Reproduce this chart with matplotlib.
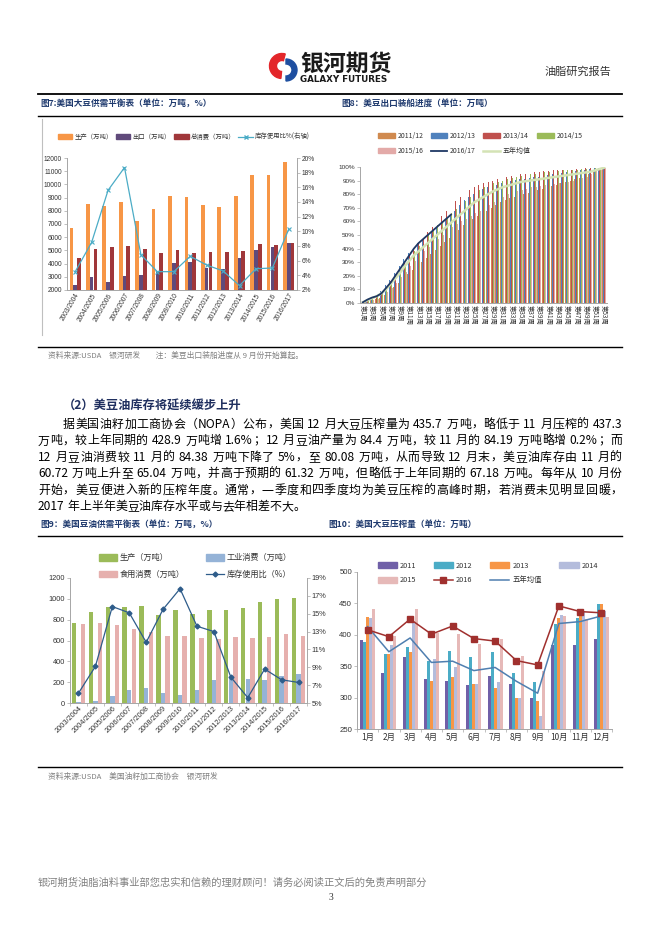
import matplotlib
matplotlib.use('Agg')
import matplotlib.pyplot as plt
import numpy as np
from matplotlib.patches import Patch, Wedge
from matplotlib.lines import Line2D
from matplotlib.font_manager import FontProperties

plt.rcParams['font.family'] = ['Noto Sans CJK SC', 'DejaVu Sans']
plt.rcParams['axes.unicode_minus'] = False

W, H = 662, 936
CJK = 'Noto Sans CJK SC'
NUM = ['Liberation Sans Narrow', 'Liberation Sans', 'DejaVu Sans']
GRAY_AX = '#A6A6A6'

# --- 图7 美国大豆供需平衡表 ---
years = ['2003/2004', '2004/2005', '2005/2006', '2006/2007', '2007/2008', '2008/2009', '2009/2010',
         '2010/2011', '2011/2012', '2012/2013', '2013/2014', '2014/2015', '2015/2016', '2016/2017']
soy_prod = [6680, 8520, 8330, 8700, 7250, 8100, 9150, 9070, 8440, 8290, 9140, 10680, 10680, 11700]
soy_export = [2410, 3000, 2580, 3030, 3130, 3450, 4080, 4090, 3700, 3580, 4460, 5000, 5290, 5550]
soy_cons = [4450, 5100, 5280, 5330, 5130, 4800, 5050, 4830, 4880, 4880, 4980, 5480, 5430, 5580]
soy_ratio = [4.5, 8.5, 15.6, 18.7, 6.8, 4.5, 4.5, 6.6, 5.4, 4.6, 2.6, 4.9, 5.0, 10.3]

# --- 图8 美豆出口装船进度 (%) ---
week_labels = ['第%d周' % (i + 1) for i in range(53)]
ship_1112 = [0, 1, 2, 3, 4, 6, 9, 12, 15, 18, 21, 24, 27, 30, 33, 36, 39, 42, 45, 48,
             51, 54, 57, 60, 62, 64, 66, 68, 70, 72, 74, 76, 77, 78, 79, 80, 81, 82, 83, 84,
             85, 86, 87, 88, 89, 90, 91, 92, 93, 95, 97, 98, 99]
ship_1213 = [1, 2, 4, 6, 9, 13, 17, 22, 27, 32, 37, 41, 44, 47, 50, 53, 56, 59, 62, 65,
             68, 72, 76, 78, 80, 82, 84, 85, 86, 87, 88, 89, 90, 90.5, 91, 91.5, 92, 92.5, 93, 93.5,
             94, 94.5, 95, 95.5, 96, 96.5, 97, 97.5, 98, 98.5, 99, 99.5, 100]
ship_1314 = [1, 2, 3, 5, 8, 12, 16, 21, 26, 31, 35, 40, 44, 48, 52, 56, 60, 64, 68, 72,
             75, 78, 81, 83, 85, 87, 88, 89, 90, 91, 92, 93, 93.5, 94, 94.5, 95, 95.5, 96, 96.5, 97,
             97, 97.5, 97.5, 98, 98, 98, 98.5, 98.5, 99, 99, 99.5, 99.5, 100]
ship_1415 = [1, 2, 4, 6, 8, 11, 15, 19, 24, 29, 34, 38, 42, 46, 50, 54, 57, 60, 63, 66,
             69, 72, 75, 78, 81, 83, 85, 87, 88, 89, 90, 91, 92, 93, 93.5, 94, 94.5, 95, 95.5, 96,
             96.5, 97, 97, 97.5, 97.5, 98, 98, 98.5, 98.5, 99, 99, 99.5, 100]
ship_1516 = [0, 1, 2, 3, 5, 8, 11, 15, 19, 23, 27, 31, 35, 38, 41, 44, 47, 50, 53, 56,
             58, 60, 62, 64, 66, 68, 70, 72, 74, 76, 78, 80, 81, 82, 83, 84, 85, 85.5, 86, 86.5,
             87, 87.5, 88, 88.5, 89, 90, 91, 92, 93, 95, 97, 98, 99]
ship_1617 = [0.5, 2.5, 4, 5, 7, 11, 15, 20, 25, 30, 35, 40, 44, 47, 50, 53, 56, 59, 62, 65]
ship_avg = [0.5, 2, 3.5, 5, 7, 10, 14, 18, 22, 27, 31, 35, 38, 41, 44, 47, 50, 53, 56, 59,
            62, 65, 68, 71, 74, 76, 78, 80, 82, 83.5, 85, 86, 87, 88, 89, 89.5, 90, 90.5, 91, 91.5,
            92, 92.5, 93, 93.5, 94, 94.5, 95, 95.5, 96, 96.5, 97.5, 98.5, 99.5]

# --- 图9 美国豆油供需平衡表 ---
oil_prod = [770, 875, 920, 925, 935, 845, 890, 850, 895, 895, 915, 970, 995, 1010]
oil_ind = [10, 20, 70, 125, 145, 95, 75, 125, 220, 230, 230, 225, 260, 280]
oil_food = [755, 770, 745, 715, 680, 640, 640, 625, 615, 635, 625, 630, 660, 645]
oil_ratio = [6.1, 9.1, 15.8, 15.1, 11.8, 15.5, 17.8, 13.6, 13.0, 7.9, 5.6, 8.8, 7.6, 7.3]

# --- 图10 美国大豆压榨量 ---
months = ['1月', '2月', '3月', '4月', '5月', '6月', '7月', '8月', '9月', '10月', '11月', '12月']
crush_2011 = [392, 339, 364, 330, 327, 320, 334, 322, 300, 384, 383, 394]
crush_2012 = [388, 370, 381, 358, 375, 364, 373, 339, 325, 417, 427, 449]
crush_2013 = [429, 370, 372, 326, 333, 322, 315, 300, 295, 426, 433, 449]
crush_2014 = [427, 384, 419, 361, 349, 322, 325, 300, 271, 431, 436, 438]
crush_2015 = [441, 398, 441, 403, 402, 386, 394, 367, 343, 430, 425, 428]
crush_2016 = [408, 397, 425, 401, 414, 394, 390, 359, 352, 446, 437, 435]
crush_avg = [413, 373, 395, 356, 358, 343, 348, 326, 307, 418, 421, 430]

body_lines = [
    "据美国油籽加工商协会（NOPA）公布，美国 12 月大豆压榨量为 435.7 万吨，略低于 11 月压榨的 437.3",
    "万吨，较上年同期的 428.9 万吨增 1.6%；12 月豆油产量为 84.4 万吨，较 11 月的 84.19 万吨略增 0.2%；而",
    "12 月豆油消费较 11 月的 84.38 万吨下降了 5%，至 80.08 万吨，从而导致 12 月末，美豆油库存由 11 月的",
    "60.72 万吨上升至 65.04 万吨，并高于预期的 61.32 万吨，但略低于上年同期的 67.18 万吨。每年从 10 月份",
    "开始，美豆便进入新的压榨年度。通常，一季度和四季度均为美豆压榨的高峰时期，若消费未见明显回暖，",
    "2017 年上半年美豆油库存水平或与去年相差不大。",
]


def box(x0, y0, x1, y1):
    return [x0 / W, 1 - y1 / H, (x1 - x0) / W, (y1 - y0) / H]


def fig_pt(x, y):
    return (x / W, 1 - y / H)


def style_ax(ax, size=4.8, fam=NUM):
    for s in ['top', 'right']:
        ax.spines[s].set_visible(False)
    for s in ['left', 'bottom']:
        ax.spines[s].set_color(GRAY_AX)
        ax.spines[s].set_linewidth(0.7)
    ax.tick_params(axis='both', length=2, width=0.5, color=GRAY_AX, labelsize=size,
                   labelcolor='#333333', pad=1.5)
    for lab in ax.get_yticklabels():
        lab.set_family(fam)
    ax.set_facecolor('none')


fig = plt.figure(figsize=(W / 100, H / 100), dpi=100)
page = fig.add_axes([0, 0, 1, 1])
page.set_xlim(0, W)
page.set_ylim(H, 0)
page.axis('off')

# ---------- 页眉 ----------
page.add_patch(Wedge((282, 66), 12.5, 95, 285, width=7, color='#E3262A'))
page.add_patch(Wedge((286, 70), 11, 270, 450, width=5, color='#1E4FA0'))
page.text(300, 64, '银河期货', fontsize=16.5, fontweight='bold', color='#1a1a1a', va='center', family=CJK)
page.text(300, 79, 'GALAXY FUTURES', fontsize=6.3, fontweight='bold', color='#1a1a1a', va='center',
          family='DejaVu Sans')
page.text(545, 72, '油脂研究报告', fontsize=8, color='#333333', va='center', family=CJK)
page.plot([38, 622], [94, 94], color='black', lw=1.3)

title_kw = dict(fontsize=6.2, fontweight='bold', color='#1F3A6E', va='center', family=CJK)
page.text(40, 103, '图7:美国大豆供需平衡表（单位：万吨，%）', **title_kw)
page.text(341, 103, '图8：美豆出口装船进度（单位：万吨）', **title_kw)
page.plot([38, 622], [116, 116], color='black', lw=1.0)
page.plot([42, 42], [119, 335], color='#BFBFBF', lw=0.8)
page.plot([38, 622], [347, 347], color='black', lw=1.0)
note_kw = dict(fontsize=5.6, color='#808080', va='center', family=CJK)
page.text(48, 356, '资料来源:USDA　银河研发　　注：美豆出口装船进度从 9 月份开始算起。', **note_kw)

# ---------- 图7 ----------
ax7 = fig.add_axes(box(67, 158, 297, 290))
x7 = np.arange(len(years))
ax7.bar(x7 - 0.23, soy_prod, 0.22, color='#F79646')
ax7.bar(x7, soy_export, 0.22, color='#604A7B')
ax7.bar(x7 + 0.23, soy_cons, 0.22, color='#A0373A')
ax7.set_ylim(2000, 12000)
ax7.set_yticks(np.arange(2000, 12001, 1000))
ax7.set_xlim(-0.5, len(years) - 0.5)
ax7.set_xticks(x7)
ax7.set_xticklabels(years, rotation=60, ha='right', rotation_mode='anchor')
style_ax(ax7, 4.8)
for lab in ax7.get_xticklabels():
    lab.set_family(NUM)
ax7.tick_params(axis='x', length=0)
ax7r = ax7.twinx()
ax7r.plot(x7, soy_ratio, color='#4BACC6', lw=0.9, marker='x', ms=3, mew=0.8)
ax7r.set_ylim(2, 20)
ax7r.set_yticks(np.arange(2, 21, 2))
ax7r.set_yticklabels(['%d%%' % v for v in range(2, 21, 2)])
for s in ['top', 'left', 'bottom']:
    ax7r.spines[s].set_visible(False)
ax7r.spines['right'].set_color(GRAY_AX)
ax7r.spines['right'].set_linewidth(0.7)
ax7r.tick_params(axis='y', length=2, width=0.5, color=GRAY_AX, labelsize=4.8, labelcolor='#333333', pad=1.5)
for lab in ax7r.get_yticklabels():
    lab.set_family(NUM)
h7 = [Patch(color='#F79646'), Patch(color='#604A7B'), Patch(color='#A0373A'),
      Line2D([], [], color='#4BACC6', lw=0.9, marker='x', ms=3)]
fig.legend(h7, ['生产（万吨）', '出口（万吨）', '总消费（万吨）', '库存使用比%(右轴)'],
           loc='center left', bbox_to_anchor=fig_pt(52, 137), ncol=4, frameon=False,
           fontsize=4.6, handlelength=2.3, handleheight=0.8, handletextpad=0.3, columnspacing=0.5,
           labelcolor='#333333')

# ---------- 图8 ----------
ax8 = fig.add_axes(box(360, 167, 607, 303))
x8 = np.arange(len(week_labels))
ship_series = [ship_1112, ship_1213, ship_1314, ship_1415, ship_1516]
ship_colors = ['#D08A4F', '#4F81BD', '#C0504D', '#9BBB59', '#E3AAA8']
for k, (vals, c) in enumerate(zip(ship_series, ship_colors)):
    ax8.bar(x8 + (k - 2) * 0.17, vals, 0.17, color=c, lw=0)
ax8.plot(np.arange(len(ship_avg)), ship_avg, color='#D4E3B5', lw=1.8)
ax8.plot(np.arange(len(ship_1617)), ship_1617, color='#1F3864', lw=1.3)
ax8.set_ylim(0, 100)
ax8.set_yticks(np.arange(0, 101, 10))
ax8.set_yticklabels(['%d%%' % v for v in range(0, 101, 10)])
ax8.set_xlim(-0.6, len(week_labels) - 0.4)
ax8.set_xticks(x8[::2])
ax8.set_xticklabels(week_labels[::2], rotation=270, ha='center', va='top')
style_ax(ax8, 4.6)
ax8.tick_params(axis='x', labelsize=4.6, length=0)
h8 = [Patch(color=c) for c in ship_colors] + [Line2D([], [], color='#1F3864', lw=1.3),
                                               Line2D([], [], color='#D4E3B5', lw=1.8)]
l8 = ['2011/12', '2012/13', '2013/14', '2014/15', '2015/16', '2016/17', '五年均值']
order8 = [0, 4, 1, 5, 2, 6, 3]
fig.legend([h8[i] for i in order8], [l8[i] for i in order8], loc='upper left',
           bbox_to_anchor=fig_pt(372, 126), ncol=4, frameon=False, fontsize=5,
           handlelength=2.4, handleheight=0.8, handletextpad=0.4, columnspacing=1.0,
           labelspacing=1.0, labelcolor='#333333')

# ---------- 正文 ----------
page.text(63, 410, '（2）美豆油库存将延续缓步上升', fontsize=8.8, fontweight='bold', color='#1F2F5F',
          va='baseline', family=CJK)

renderer = fig.canvas.get_renderer()
body_fp = FontProperties(family=CJK, size=8.6)
space_w = 0.25 * 8.6 * 100 / 72


def tokens_of(s):
    toks, cur = [], ''
    for ch in s:
        if ord(ch) < 128 and ch != ' ':
            cur += ch
            continue
        if cur:
            toks.append(cur)
            cur = ''
        toks.append(ch)
    if cur:
        toks.append(cur)
    return toks


def width_of(t):
    if t == ' ':
        return space_w
    return renderer.get_text_width_height_descent(t, body_fp, ismath=False)[0]


def body_line(s, x0, x1, y, justify=True):
    toks = tokens_of(s)
    ws = [width_of(t) for t in toks]
    extra = (x1 - x0 - sum(ws)) / (len(toks) - 1) if justify else 0
    x = x0
    for t, w in zip(toks, ws):
        if t != ' ':
            page.text(x, y, t, fontproperties=body_fp, color='black', va='baseline')
        x += w + extra


for i, s in enumerate(body_lines):
    x0 = 63 if i == 0 else 38
    body_line(s, x0, 622, 428 + 16.4 * i, justify=(i < len(body_lines) - 1))

page.text(40, 524, '图9：美国豆油供需平衡表（单位：万吨，%）', **title_kw)
page.text(328, 524, '图10：美国大豆压榨量（单位：万吨）', **title_kw)
page.plot([38, 622], [536, 536], color='black', lw=1.0)

# ---------- 图9 ----------
ax9 = fig.add_axes(box(70, 578, 307, 703))
x9 = np.arange(len(years))
ax9.bar(x9 - 0.27, oil_prod, 0.26, color='#9BBB59')
ax9.bar(x9, oil_ind, 0.26, color='#95B3D7')
ax9.bar(x9 + 0.27, oil_food, 0.26, color='#E6B0AE')
ax9.set_ylim(0, 1200)
ax9.set_yticks(np.arange(0, 1201, 200))
ax9.set_xlim(-0.5, len(years) - 0.5)
ax9.set_xticks(x9)
ax9.set_xticklabels(years, rotation=45, ha='right', rotation_mode='anchor')
ax9.set_xticks(np.arange(-0.5, len(years), 1), minor=True)
style_ax(ax9, 5.3)
ax9.tick_params(axis='x', which='major', length=0)
ax9.tick_params(axis='x', which='minor', length=2.5, width=0.5, color=GRAY_AX)
for lab in ax9.get_xticklabels():
    lab.set_family(NUM)
ax9r = ax9.twinx()
ax9r.plot(x9, oil_ratio, color='#2E5C8A', lw=0.9, marker='D', ms=2.5)
ax9r.set_ylim(5, 19)
ax9r.set_yticks(np.arange(5, 20, 2))
ax9r.set_yticklabels(['%d%%' % v for v in range(5, 20, 2)])
for s in ['top', 'left', 'bottom']:
    ax9r.spines[s].set_visible(False)
ax9r.spines['right'].set_color(GRAY_AX)
ax9r.spines['right'].set_linewidth(0.7)
ax9r.tick_params(axis='y', length=2, width=0.5, color=GRAY_AX, labelsize=5.3, labelcolor='#333333', pad=1.5)
for lab in ax9r.get_yticklabels():
    lab.set_family(NUM)
h9 = [Patch(color='#9BBB59'), Patch(color='#E6B0AE'), Patch(color='#95B3D7'),
      Line2D([], [], color='#2E5C8A', lw=0.9, marker='D', ms=2.5)]
fig.legend(h9, ['生产（万吨）', '食用消费（万吨）', '工业消费（万吨）', '库存使用比（%）'],
           loc='upper left', bbox_to_anchor=fig_pt(92, 546), ncol=2, frameon=False, fontsize=5.9,
           handlelength=2.2, handleheight=0.8, handletextpad=0.3, columnspacing=2.6,
           labelspacing=0.9, labelcolor='#333333')

# ---------- 图10 ----------
ax10 = fig.add_axes(box(357, 572, 612, 729))
x10 = np.arange(len(months))
crush_series = [crush_2011, crush_2012, crush_2013, crush_2014, crush_2015]
crush_colors = ['#7060A8', '#4BACC6', '#F79646', '#B4BCDC', '#E6B9B8']
for k, (vals, c) in enumerate(zip(crush_series, crush_colors)):
    ax10.bar(x10 + (k - 2) * 0.14, vals, 0.14, color=c, lw=0)
ax10.plot(x10, crush_avg, color='#4F7FB0', lw=1.1)
ax10.plot(x10, crush_2016, color='#A0302E', lw=1.1, marker='s', ms=4.5)
ax10.set_ylim(250, 500)
ax10.set_yticks(np.arange(250, 501, 50))
ax10.set_xlim(-0.5, len(months) - 0.5)
ax10.set_xticks(x10)
ax10.set_xticklabels(months)
ax10.set_xticks(np.arange(-0.5, len(months), 1), minor=True)
style_ax(ax10, 5.6)
ax10.tick_params(axis='x', which='major', length=0, labelsize=6, pad=3)
ax10.tick_params(axis='x', which='minor', length=2.5, width=0.5, color=GRAY_AX)
h10 = [Patch(color=c) for c in crush_colors] + [
    Line2D([], [], color='#A0302E', lw=1.1, marker='s', ms=4.5),
    Line2D([], [], color='#4F7FB0', lw=1.1)]
l10 = ['2011', '2012', '2013', '2014', '2015', '2016', '五年均值']
fig.legend([h10[i] for i in order8], [l10[i] for i in order8], loc='upper left',
           bbox_to_anchor=fig_pt(371, 555), ncol=4, frameon=False, fontsize=5.3,
           handlelength=2.6, handleheight=0.8, handletextpad=0.4, columnspacing=2.4,
           labelspacing=0.9, labelcolor='#333333')

# ---------- 页脚 ----------
page.plot([38, 622], [767, 767], color='black', lw=1.0)
page.text(48, 777, '资料来源:USDA　美国油籽加工商协会　银河研发', **note_kw)
page.text(38, 883, '银河期货油脂油料事业部您忠实和信赖的理财顾问！请务必阅读正文后的免责声明部分',
          fontsize=7.4, color='#808080', va='center', family=CJK)
page.text(331, 898, '3', fontsize=7, color='#333333', va='center', ha='center', family='Liberation Serif')

fig.savefig('out.png', dpi=100)
